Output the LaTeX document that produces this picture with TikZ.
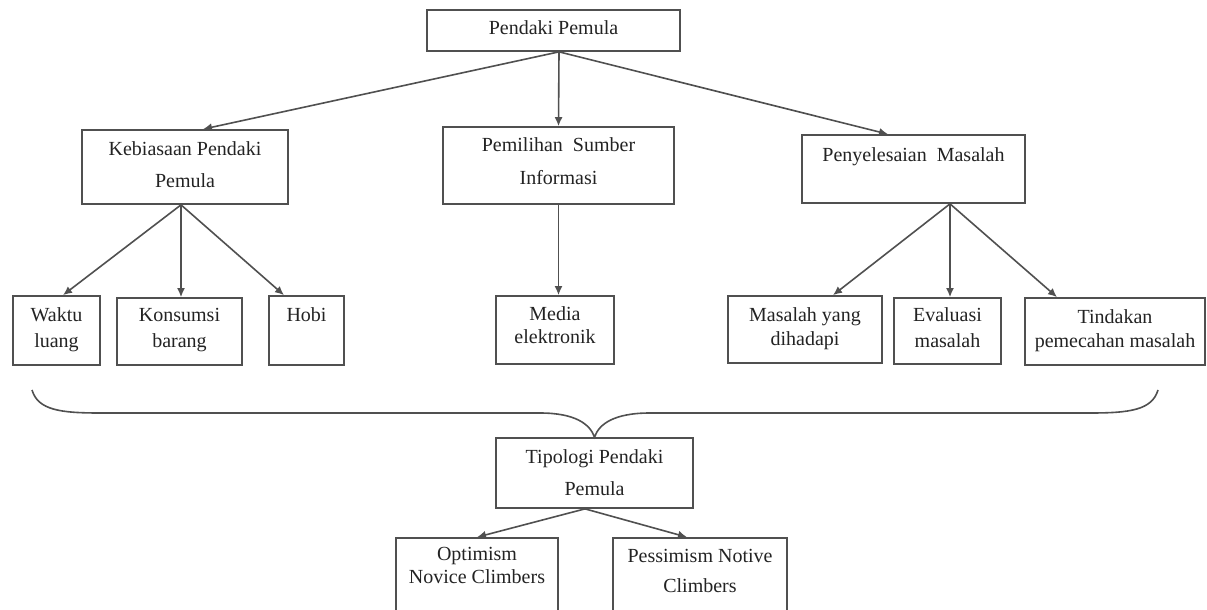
\documentclass[tikz,border=0pt]{standalone}
\usepackage{fontspec}
\setmainfont{Liberation Serif}
\usetikzlibrary{arrows.meta}

% box content: width, height, first baseline, line spacing, text
\newcommand{\boxtext}[5]{\parbox[c][#2pt][t]{#1pt}{\centering\fontsize{20}{#4}\selectfont\rule{0pt}{#3pt}#5}}

\begin{document}
\begin{tikzpicture}[x=1pt,y=-1pt,
    every node/.style={text=textgray},
    box/.style={draw=linegray, line width=1.7pt, inner sep=0pt},
    arr/.style={draw=linegray, line width=1.6pt, -{Latex[length=9pt,width=8pt]}}]

    % Colors
    \definecolor{linegray}{RGB}{80,80,80}
    \definecolor{textgray}{RGB}{35,35,35}

    \fill[white] (0,0) rectangle (1207,610);
    \useasboundingbox (0,0) rectangle (1207,610);
    \clip (0,0) rectangle (1207,610);

    % ======================
    % Level 1
    % ======================
    \node[box] (top) at (553.5,30.5) {\boxtext{253}{41}{25}{24}{Pendaki Pemula}};

    % ======================
    % Level 2
    % ======================
    \node[box] (keb) at (185,167) {\boxtext{206}{74}{25}{32}{Kebiasaan Pendaki\\Pemula}};
    \node[box] (pem) at (558.5,165.5) {\boxtext{231}{77}{24}{33}{Pemilihan\ \ Sumber\\Informasi}};
    \node[box] (pen) at (913.5,169) {\boxtext{223}{68}{26}{32}{Penyelesaian\ \ Masalah}};

    \draw[arr] ([xshift=5.5]top.south) -- ([xshift=18]keb.north);
    \draw[arr] ([xshift=5.5]top.south) -- (pem.north);
    \draw[arr] ([xshift=5.5]top.south) -- ([xshift=-25.5]pen.north);

    % ======================
    % Level 3
    % ======================
    \node[box] (wak) at (56.5,330.5) {\boxtext{87}{69}{25}{26}{Waktu\\luang}};
    \node[box] (kon) at (179.5,331.5) {\boxtext{125}{67}{23}{26}{Konsumsi\\barang}};
    \node[box] (hob) at (306.5,330.5) {\boxtext{75}{69}{25}{26}{Hobi}};
    \node[box] (med) at (555,330) {\boxtext{118}{68}{24}{23}{Media\\elektronik}};
    \node[box] (mas) at (805,329.5) {\boxtext{154}{67}{25}{24}{Masalah yang\\dihadapi}};
    \node[box] (eva) at (947.5,331) {\boxtext{107}{66}{23}{26}{Evaluasi\\masalah}};
    \node[box] (tin) at (1115,331.5) {\boxtext{180}{67}{25}{24}{Tindakan\\pemecahan masalah}};

    \draw[arr] ([xshift=-4]keb.south) -- ([xshift=6.5]wak.north);
    \draw[arr] ([xshift=-4]keb.south) -- ([xshift=1.5]kon.north);
    \draw[arr] ([xshift=-4]keb.south) -- ([xshift=-22.5]hob.north);
    \draw[arr] (pem.south) -- ([xshift=3.5]med.north);
    \draw[arr] ([xshift=36.5]pen.south) -- ([xshift=28]mas.north);
    \draw[arr] ([xshift=36.5]pen.south) -- ([xshift=2.5]eva.north);
    \draw[arr] ([xshift=36.5]pen.south) -- ([xshift=-58]tin.north);

    % ======================
    % Typology
    % ======================
    \node[box] (tip) at (594.5,473) {\boxtext{197}{70}{25}{32}{Tipologi Pendaki\\Pemula}};
    \node[box] (opt) at (477,581.5) {\boxtext{162}{87}{22}{23}{Optimism\\Novice Climbers}};
    \node[box] (pes) at (700,581.5) {\boxtext{174}{87}{24}{30}{Pessimism Notive\\Climbers}};

    % brace over level 3
    \coordinate (bl) at (32,390);
    \coordinate (br) at (1158,390);
    \draw[linegray, line width=1.6pt] (bl) .. controls (38,410) and (60,413) .. (100,413)
        -- (540,413) .. controls (575,413) and (590,424) .. (tip.north)
        .. controls (599,424) and (614,413) .. (650,413)
        -- (1090,413) .. controls (1130,413) and (1152,410) .. (br);

    \draw[arr] ([xshift=-9.5]tip.south) -- (opt.north);
    \draw[arr] ([xshift=-9.5]tip.south) -- ([xshift=-13]pes.north);

  \end{tikzpicture}
\end{document}
